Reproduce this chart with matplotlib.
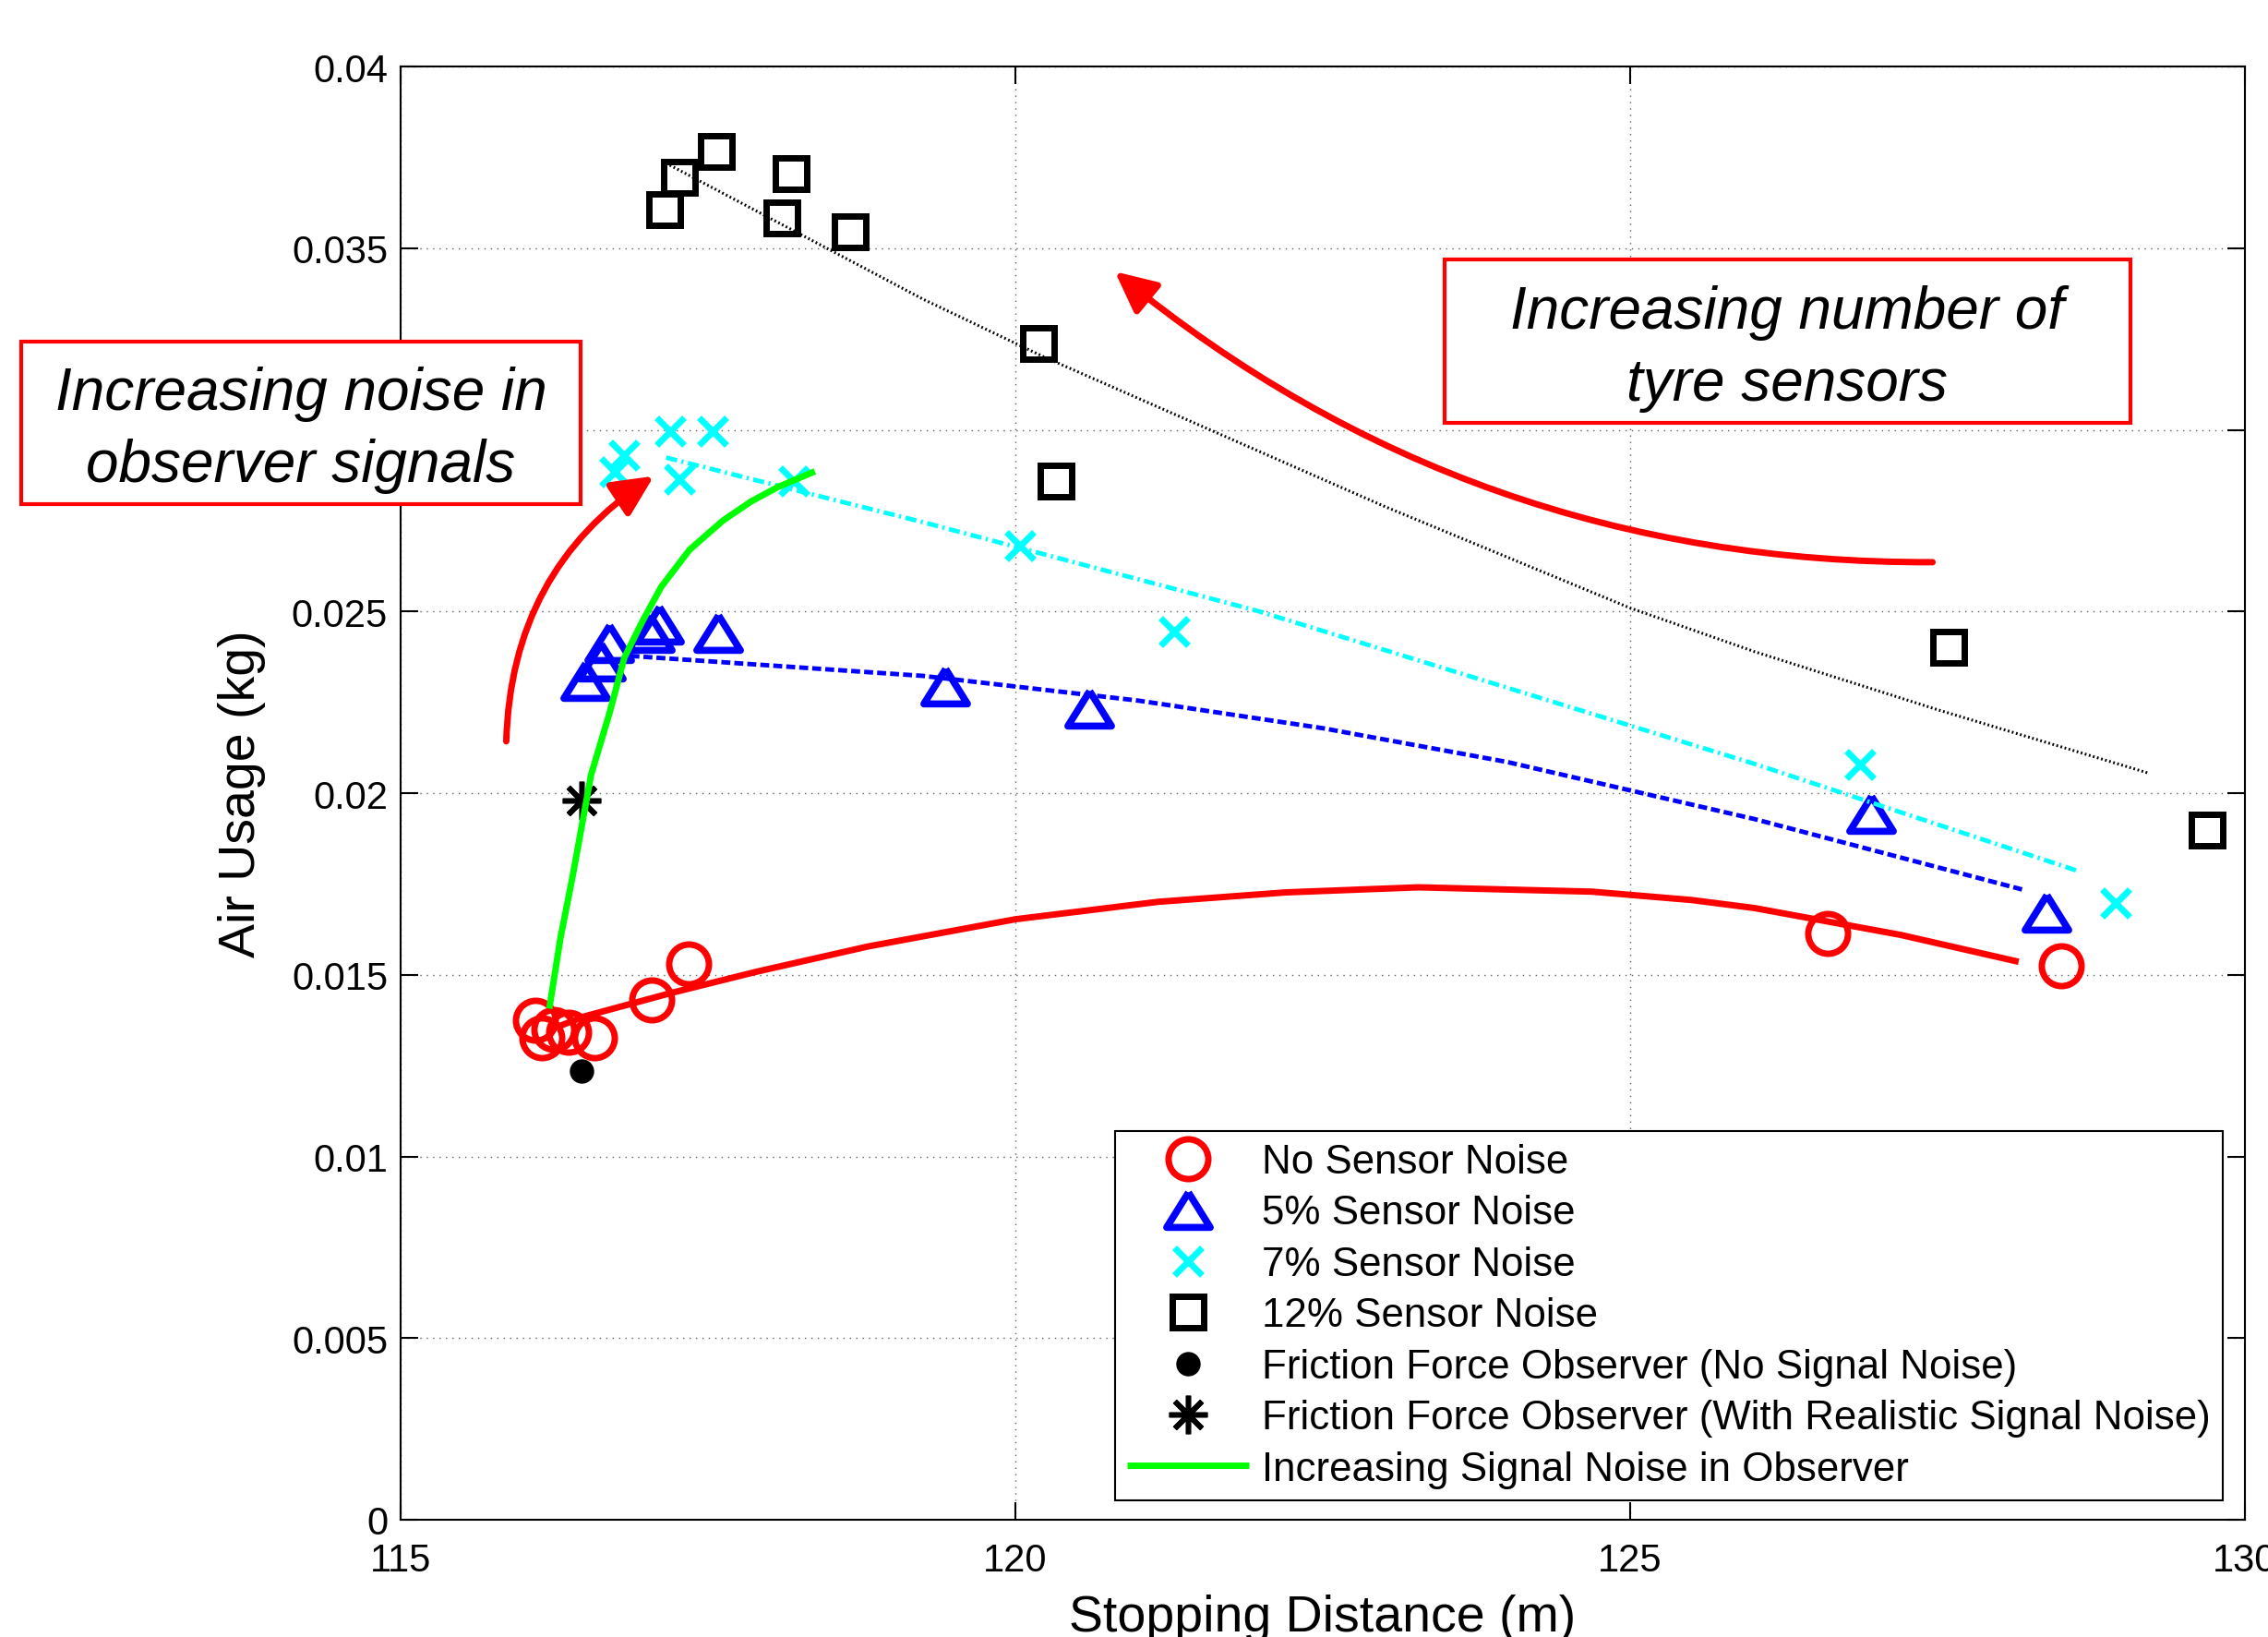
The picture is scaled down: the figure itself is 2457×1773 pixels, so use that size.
import matplotlib
matplotlib.use("Agg")
import matplotlib.pyplot as plt
from matplotlib.patches import Rectangle
from matplotlib.ticker import FuncFormatter

plt.rcParams['font.family'] = ['Liberation Sans', 'DejaVu Sans']

# measured points
no_noise_x = [116.10, 116.15, 116.25, 116.37, 116.58, 117.04, 117.34, 126.61, 128.51]
no_noise_y = [0.01375, 0.01327, 0.01350, 0.01343, 0.01327, 0.01430, 0.01530, 0.01615, 0.01526]

noise5_x = [116.50, 116.63, 116.70, 117.03, 117.10, 117.58, 119.43, 120.60, 126.96, 128.39]
noise5_y = [0.02311, 0.02365, 0.02414, 0.02442, 0.02466, 0.02442, 0.02295, 0.02235, 0.01945, 0.01672]

noise7_x = [116.74, 116.82, 117.19, 117.54, 117.27, 118.20, 120.04, 121.29, 126.87, 128.95]
noise7_y = [0.02886, 0.02930, 0.02996, 0.02996, 0.02865, 0.02860, 0.02681, 0.02446, 0.02079, 0.01698]

noise12_x = [117.15, 117.27, 117.57, 118.18, 118.10, 118.66, 120.19, 120.33, 127.59, 129.69]
noise12_y = [0.03606, 0.03695, 0.03767, 0.03705, 0.03585, 0.03545, 0.03239, 0.02860, 0.02403, 0.01899]

obs_clean = (116.47, 0.01234)
obs_noisy = (116.47, 0.01980)

# trend lines
fit0_x = [116.30, 116.50, 117.20, 117.90, 118.80, 120.00, 121.16, 122.20, 123.28, 124.69, 125.50, 126.01, 127.20, 128.16]
fit0_y = [0.01360, 0.01386, 0.01450, 0.01509, 0.01578, 0.01653, 0.01701, 0.01727, 0.01741, 0.01729, 0.01706, 0.01684, 0.01610, 0.01536]

fit5_x = [116.87, 119.25, 121.00, 122.50, 124.00, 126.01, 128.20]
fit5_y = [0.02378, 0.02323, 0.02255, 0.02179, 0.02086, 0.01929, 0.01734]

fit7_x = [117.16, 119.25, 121.98, 126.01, 128.66]
fit7_y = [0.02924, 0.02746, 0.02501, 0.02081, 0.01784]

fit12_x = [117.19, 119.25, 120.24, 123.00, 125.00, 126.01, 127.50, 129.21]
fit12_y = [0.03729, 0.03360, 0.03200, 0.02790, 0.02510, 0.02390, 0.02230, 0.02056]

obs_curve_x = [116.21, 116.30, 116.40, 116.55, 116.70, 116.82, 116.97, 117.12, 117.35, 117.62, 117.85, 118.07, 118.37]
obs_curve_y = [0.01407, 0.01600, 0.01772, 0.02051, 0.02221, 0.02373, 0.02475, 0.02568, 0.02670, 0.02750, 0.02803, 0.02843, 0.02886]

legend_labels = ['No Sensor Noise', '5% Sensor Noise', '7% Sensor Noise', '12% Sensor Noise',
                 'Friction Force Observer (No Signal Noise)',
                 'Friction Force Observer (With Realistic Signal Noise)',
                 'Increasing Signal Noise in Observer']

fig = plt.figure(figsize=(24.57, 17.74), dpi=100)
ax = fig.add_axes([0.1766, 0.0716, 0.8132, 0.8871])

tri = [(0, 0.8), (-1, -0.8), (1, -0.8), (0, 0.8)]

h0, = ax.plot(no_noise_x, no_noise_y, 'o', ms=31, mfc='none', mec='red', mew=5, ls='none')
h5, = ax.plot(noise5_x, noise5_y, marker=tri, ms=34, mfc='none', mec='blue', mew=5.5, ls='none')
h7, = ax.plot(noise7_x, noise7_y, 'x', ms=22, mec='cyan', mew=5, ls='none')
h12, = ax.plot(noise12_x, noise12_y, 's', ms=25, mfc='none', mec='black', mew=5, ls='none')
hd, = ax.plot([obs_clean[0]], [obs_clean[1]], 'o', ms=18, color='black', ls='none')
ha, = ax.plot([obs_noisy[0]], [obs_noisy[1]], marker=(8, 2, 0), ms=30, mec='black', mew=4, ls='none')

ax.plot(fit0_x, fit0_y, color='red', lw=5, solid_capstyle='butt', solid_joinstyle='round')
ax.plot(fit5_x, fit5_y, color='blue', lw=3.5, ls=(0, (2, 0.9)))
ax.plot(fit7_x, fit7_y, color='cyan', lw=3.5, ls=(0, (2.5, 1, 0.5, 1)))
ax.plot(fit12_x, fit12_y, color='black', lw=2.2, ls=(0, (0.6, 0.9)))
hg, = ax.plot(obs_curve_x, obs_curve_y, color='#00ff00', lw=5, solid_capstyle='butt', solid_joinstyle='round')

ax.set_xlim(115, 130)
ax.set_ylim(0, 0.04)
ax.set_xticks([115, 120, 125, 130])
ax.set_yticks([0, 0.005, 0.01, 0.015, 0.02, 0.025, 0.03, 0.035, 0.04])
ax.yaxis.set_major_formatter(FuncFormatter(lambda v, p: '%g' % v))
ax.tick_params(direction='in', length=14, width=1.5, labelsize=30, top=True, right=True, pad=17)
ax.tick_params(axis='y', pad=10)
for s in ax.spines.values():
    s.set_linewidth(1.5)
ax.grid(True, ls=(0, (1, 4)), color='#606060', lw=1)
ax.set_axisbelow(True)

ax.set_xlabel('Stopping Distance (m)', fontsize=40, labelpad=12)
ax.set_ylabel('Air Usage (kg)', fontsize=40, labelpad=20)

# curved arrows
arrow_noise = ((115.86, 0.02143), (117.06, 0.02873))
arrow_sensors = ((127.46, 0.02636), (120.81, 0.03436))
for (start, end), rad in [(arrow_noise, -0.26), (arrow_sensors, -0.18)]:
    ax.annotate('', xy=end, xytext=start,
                arrowprops=dict(arrowstyle='-|>,head_length=1.35,head_width=0.65', mutation_scale=20,
                                color='red', lw=5, shrinkA=0, shrinkB=0,
                                connectionstyle='arc3,rad=%g' % rad))

# text boxes (figure pixel measurements)
W, H = 2457, 1774
boxes = [((23, 371, 629, 547), 'Increasing noise in\nobserver signals'),
         ((1565, 282, 2308, 459), 'Increasing number of\ntyre sensors')]
for (x0, y0, x1, y1), txt in boxes:
    fig.add_artist(Rectangle((x0 / W, 1 - y1 / H), (x1 - x0) / W, (y1 - y0) / H,
                             transform=fig.transFigure, fill=True, fc='white',
                             ec='red', lw=3, zorder=5))
    fig.text((x0 + x1) / 2 / W, 1 - (y0 + y1) / 2 / H - 0.004, txt, ha='center', va='center',
             fontsize=46, style='italic', zorder=6, linespacing=1.38)

leg = ax.legend([h0, h5, h7, h12, hd, ha, hg], legend_labels, loc='lower right',
                bbox_to_anchor=(2408 / W, 1 - 1626 / H), bbox_transform=fig.transFigure,
                borderaxespad=0, fontsize=31.6, frameon=True, fancybox=False, framealpha=1,
                edgecolor='black', labelspacing=0.33, borderpad=0.3, handlelength=3,
                handletextpad=0.32, numpoints=1)
leg.get_frame().set_linewidth(1.5)

fig.savefig('out.png', dpi=100)
